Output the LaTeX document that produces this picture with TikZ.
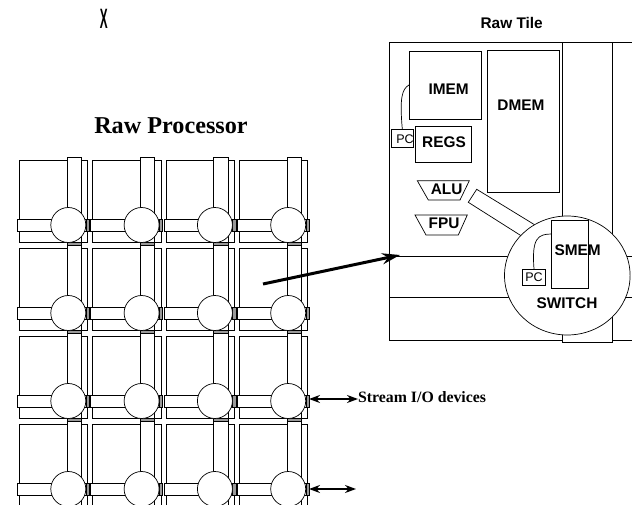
\documentclass[tikz,border=0pt]{standalone}
\usepackage{fontspec}
\setmainfont{Liberation Serif}
\setsansfont{Liberation Sans}
\usetikzlibrary{arrows.meta, shapes.geometric}

\tikzset{
    box/.style={draw, fill=white, rectangle, inner sep=0pt, line width=0.7pt},
    port/.style={box, fill=black!40},
    router/.style={box, circle, minimum size=35pt},
    blocktext/.style={inner sep=0pt, font=\sffamily\bfseries\fontsize{15.4}{16}\selectfont},
    pctext/.style={inner sep=0pt, font=\sffamily\fontsize{12.5}{13}\selectfont},
    biglabel/.style={inner sep=0pt, font=\bfseries\fontsize{#1}{#1}\selectfont},
    bigarrow/.style={line width=2pt, {Stealth[length=11pt,width=8pt]}-{Stealth[length=11pt,width=8pt]}},
    wire/.style={line width=0.7pt},
}

\begin{document}
\begin{tikzpicture}[x=1pt, y=-1pt]
    \useasboundingbox (0,0) rectangle (632,505);
    \clip (0,0) rectangle (632,505);

    \node[inner sep=0pt, font=\sffamily\bfseries\fontsize{28}{28}\selectfont, xscale=.42, transform shape] (mark) at (103.7,18.5) {X};
    \node[biglabel=24.2] (rawproc) at (171,126) {Raw Processor};

    % the grid of tiles
    \foreach \row in {0,...,3} {
        \foreach \col in {0,...,3} {
            \node[box, minimum width=68.4pt, minimum height=82.4pt] (tile-\row-\col) at (53.5+73.3*\col, 201.5+88*\row) {};
            \node[box, minimum width=14.4pt, minimum height=87.5pt] (vbar-\row-\col) at (74.2+73.3*\col, 201.25+88*\row) {};
            \node[box, minimum width=71.9pt, minimum height=11.7pt] (hbar-\row-\col) at (53.45+73.3*\col, 225.2+88*\row) {};
            \node[port, minimum width=3.4pt, minimum height=11.7pt] (eport-\row-\col) at (87.7+73.3*\col, 225.2+88*\row) {};
            \node[port, minimum width=14.4pt, minimum height=2.8pt] (sport-\row-\col) at (74.2+73.3*\col, 243.6+88*\row) {};
            \node[router] (sw-\row-\col) at (68.3+73.3*\col, 225+88*\row) {};
        }
    }

    % the enlarged tile
    \node[blocktext] (rawtile) at (511.7,22.7) {Raw Tile};
    \node[box, minimum width=270.5pt, minimum height=297.3pt] (outer) at (524.75,191.35) {};
    \node[box, minimum width=50pt, minimum height=300pt] (vstrip) at (587,192) {};
    \node[box, minimum width=270.5pt, minimum height=41.7pt] (hstrip) at (524.75,276.85) {};
    \node[box, minimum width=72pt, minimum height=68pt] (imem) at (445.3,85) {};
    \node[blocktext] (imemtext) at (448.7,89) {IMEM};
    \node[box, minimum width=72pt, minimum height=141.5pt] (dmem) at (523,121.25) {};
    \node[blocktext] (dmemtext) at (521,105) {DMEM};
    \node[box, minimum width=55.6pt, minimum height=35.6pt] (regs) at (443.5,144.5) {};
    \node[blocktext] (regstext) at (444,142) {REGS};
    \node[box, minimum width=21.3pt, minimum height=17.7pt] (pca) at (402.3,138.2) {};
    \node[pctext] (pcatext) at (405,139) {PC};
    \draw[wire] (imem.west) .. controls (402,89) and (399.5,98) .. (pca.north);

    \draw[box] (417.3,180.7) -- (469.3,180.7) -- (460,200) -- (428.3,200) -- cycle;
    \node[blocktext] (alu) at (446.7,189) {ALU};
    \draw[box] (415,215) -- (467.3,215) -- (458.3,235) -- (426,235) -- cycle;
    \node[blocktext] (fpu) at (444,223.3) {FPU};
    \draw[box] (476.7,189.3) -- (468.3,202.3) -- (522,236.3) -- (536,225.6) -- cycle;

    \node[box, ellipse, minimum width=125.6pt, minimum height=119pt] (switch) at (567.3,275.5) {};
    \node[box, minimum width=36.3pt, minimum height=67.7pt] (smem) at (569.85,254.15) {};
    \node[blocktext] (smemtext) at (577.7,250) {SMEM};
    \node[box, minimum width=23.4pt, minimum height=16.4pt] (pcb) at (534,277.5) {};
    \node[pctext] (pcbtext) at (534,277.5) {PC};
    \draw[wire] (551.7,234) .. controls (538,234) and (531.5,238) .. (pcb.north);
    \node[blocktext] (switchtext) at (567,302.7) {SWITCH};

    % connectors
    \coordinate (zoomfrom) at (263,284);
    \coordinate (zoomto) at (400,255);
    \draw[line width=3pt, -{Stealth[length=18pt,width=11pt]}] (zoomfrom) -- (zoomto);

    \node[biglabel=15.8, anchor=west] (stream) at (358,397) {Stream I/O devices};
    \coordinate (ioa) at (309,399);
    \coordinate (iob) at (309,489);
    \coordinate (iob-end) at (356,489);
    \draw[bigarrow] (ioa) -- (stream.west |- ioa);
    \draw[bigarrow] (iob) -- (iob-end);
\end{tikzpicture}
\end{document}
